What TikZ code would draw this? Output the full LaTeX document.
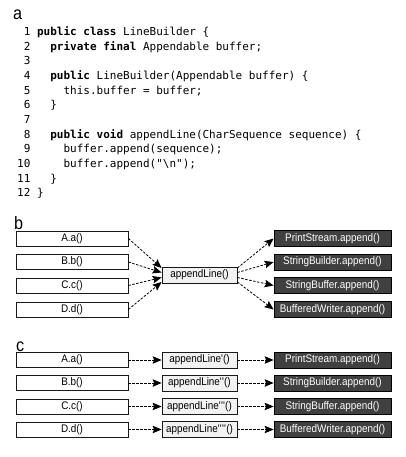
\documentclass[tikz,border=0pt]{standalone}
\usepackage{fontspec}
\setmonofont{DejaVu Sans Mono}
\newfontfamily\boxfont[FakeStretch=0.9]{Liberation Sans}
\newcommand\prm{\textquotesingle}
\usetikzlibrary{arrows.meta}

\begin{document}
\begin{tikzpicture}[x=1pt,y=-1pt,
  call/.style={draw=black!90,line width=0.8pt,fill=white,minimum width=112pt,
    minimum height=15pt,inner sep=0pt,font=\boxfont\fontsize{11}{12}\selectfont},
  hub/.style={call,fill=black!5,minimum width=75pt,minimum height=16pt},
  sink/.style={call,draw=black,fill=black!75,text=white,minimum width=117pt,minimum height=16pt},
  tag/.style={anchor=base west,inner sep=0pt,font=\boxfont\fontsize{18}{20}\selectfont},
  code/.style={anchor=base west,inner sep=0pt,font=\ttfamily\fontsize{11}{12}\selectfont},
  link/.style={dash pattern=on 2.5pt off 1.5pt,line width=0.8pt,
    -{Stealth[length=9pt,width=7.5pt,inset=1.5pt]}}]
  \useasboundingbox (0,0) rectangle (405,457);

  % a: the source
  \node[tag] (ta) at (13,20) {a};
  \node[code] (l1) at (17,35.5) {~1~\textbf{public class} LineBuilder \{};
  \node[code] (l2) at (17,50.15) {~2~~~\textbf{private final} Appendable buffer;};
  \node[code] (l3) at (17,64.8) {~3};
  \node[code] (l4) at (17,79.45) {~4~~~\textbf{public} LineBuilder(Appendable buffer) \{};
  \node[code] (l5) at (17,94.1) {~5~~~~~this.buffer = buffer;};
  \node[code] (l6) at (17,108.75) {~6~~~\}};
  \node[code] (l7) at (17,123.4) {~7};
  \node[code] (l8) at (17,138.05) {~8~~~\textbf{public void} appendLine(CharSequence sequence) \{};
  \node[code] (l9) at (17,152.7) {~9~~~~~buffer.append(sequence);};
  \node[code] (l10) at (17,167.35) {10~~~~~buffer.append("\textbackslash n");};
  \node[code] (l11) at (17,182) {11~~~\}};
  \node[code] (l12) at (17,196.65) {12~\}};

  % b: one shared appendLine
  \node[tag] (tb) at (14,229) {b};
  \node[hub] (app) at (199.5,275) {appendLine()};
  \foreach \n/\y/\o/\s/\t in {A/238.5/7/A.a()/PrintStream.append(),
      B/262/2.5/B.b()/StringBuilder.append(),
      C/285.5/-2.5/C.c()/StringBuffer.append(),
      D/309.5/-7/D.d()/BufferedWriter.append()} {
    \node[call] (b\n) at (72,\y) {\s};
    \node[sink] (bs\n) at (332.5,\y) {\t};
    \draw[link] (b\n.east) -- ([yshift=\o pt]app.west);
    \draw[link] ([yshift=\o pt]app.east) -- (bs\n.west);
  }

  % c: one copy per caller
  \node[tag] (tc) at (16,351) {c};
  \foreach \n/\y/\s/\m/\t in {A/360/A.a()/appendLine\prm()/PrintStream.append(),
      B/383/B.b()/appendLine\prm\prm()/StringBuilder.append(),
      C/406.5/C.c()/appendLine\prm\prm\prm()/StringBuffer.append(),
      D/429.5/D.d()/appendLine\prm\prm\prm\prm()/BufferedWriter.append()} {
    \node[call] (c\n) at (72,\y) {\s};
    \node[hub] (cm\n) at (199.5,\y) {\m};
    \node[sink] (cs\n) at (332.5,\y) {\t};
    \draw[link] (c\n) -- (cm\n);
    \draw[link] (cm\n) -- (cs\n);
  }
\end{tikzpicture}
\end{document}
